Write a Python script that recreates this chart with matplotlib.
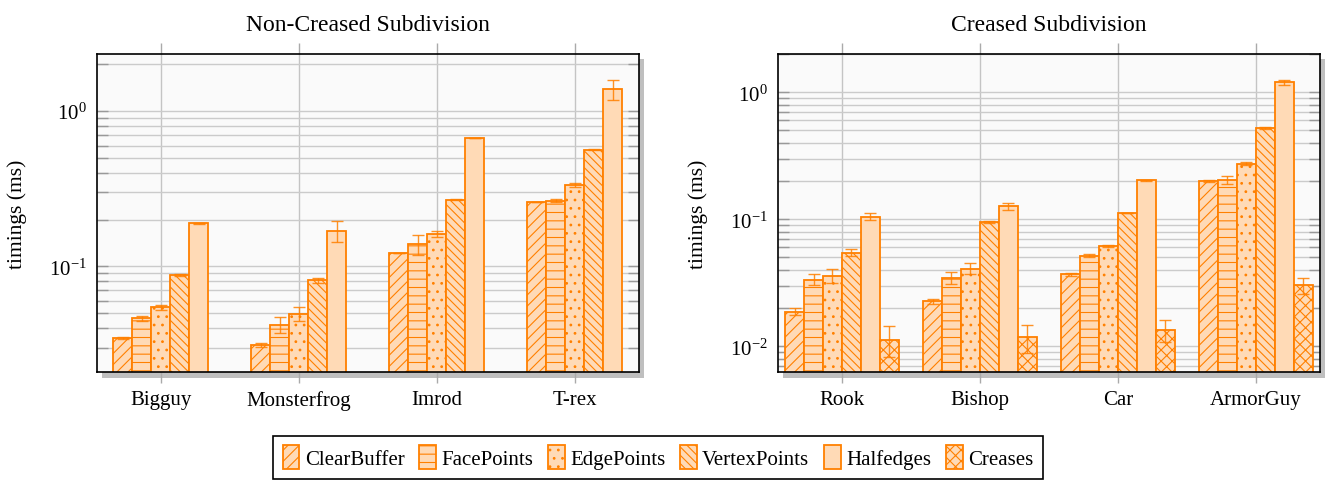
import numpy as np
import matplotlib
matplotlib.use("Agg")
import matplotlib.pyplot as plt
import matplotlib.patheffects as pe
from matplotlib.ticker import LogLocator, NullFormatter

plt.rcParams['font.family'] = ['Liberation Serif', 'DejaVu Serif']
plt.rcParams['mathtext.fontset'] = 'stix'
plt.rcParams['hatch.linewidth'] = 0.8

# ---- data ----
series = ['ClearBuffer', 'FacePoints', 'EdgePoints', 'VertexPoints', 'Halfedges', 'Creases']
hatches = ['///', '--', '..', '\\\\\\\\', '', 'xxx']

nc_models = ['Bigguy', 'Monsterfrog', 'Imrod', 'T-rex']
nc_clearbuffer = [0.0345, 0.0311, 0.122, 0.260]
nc_facepoints = [0.0462, 0.0422, 0.139, 0.265]
nc_edgepoints = [0.0544, 0.0495, 0.162, 0.336]
nc_vertexpoints = [0.0883, 0.0812, 0.269, 0.565]
nc_halfedges = [0.189, 0.170, 0.673, 1.38]
nc_clearbuffer_err = [0.0005, 0.0010, 0.000, 0.000]
nc_facepoints_err = [0.0020, 0.0050, 0.021, 0.007]
nc_edgepoints_err = [0.0021, 0.0049, 0.007, 0.010]
nc_vertexpoints_err = [0.0013, 0.0025, 0.003, 0.005]
nc_halfedges_err = [0.001, 0.027, 0.002, 0.21]

c_models = ['Rook', 'Bishop', 'Car', 'ArmorGuy']
c_clearbuffer = [0.01875, 0.0226, 0.0369, 0.199]
c_facepoints = [0.0335, 0.0347, 0.0518, 0.204]
c_edgepoints = [0.0360, 0.0409, 0.0613, 0.274]
c_vertexpoints = [0.0547, 0.0953, 0.112, 0.521]
c_halfedges = [0.105, 0.126, 0.203, 1.20]
c_creases = [0.01128, 0.01178, 0.01353, 0.0301]
c_clearbuffer_err = [0.0012, 0.0011, 0.0009, 0.003]
c_facepoints_err = [0.0034, 0.0036, 0.0013, 0.015]
c_edgepoints_err = [0.0044, 0.0041, 0.0012, 0.009]
c_vertexpoints_err = [0.0033, 0.0018, 0.001, 0.009]
c_halfedges_err = [0.0064, 0.0077, 0.002, 0.058]
c_creases_err = [0.0031, 0.0029, 0.0027, 0.0042]

EDGE = '#ff8000'
FILL = '#ffdab6'

fig = plt.figure(figsize=(13.27, 4.81), dpi=100)
W, H = 1327, 481
top, bottom = 54.7, 373.3
ax1 = fig.add_axes([96.7 / W, 1 - bottom / H, (639 - 96.7) / W, (bottom - top) / H])
ax2 = fig.add_axes([777.7 / W, 1 - bottom / H, (1320 - 777.7) / W, (bottom - top) / H])


def draw_panel(ax, models, values, errors, names, width, ylim, title):
    n = len(values)
    x = np.arange(len(models))
    for j, (vals, errs, name) in enumerate(zip(values, errors, names)):
        pos = x + (j - (n - 1) / 2) * width
        hatch = hatches[series.index(name)]
        ax.bar(pos, np.array(vals) - 1e-4, width, bottom=1e-4, color=FILL,
               edgecolor=EDGE, linewidth=1.3, hatch=hatch, zorder=3, label=name)
        ax.errorbar(pos, vals, yerr=errs, fmt='none', ecolor=EDGE, elinewidth=1.0,
                    capsize=4, capthick=1.0, zorder=4, alpha=0.85)
    ax.set_yscale('log')
    ax.set_ylim(*ylim)
    ax.set_xlim(-0.465, len(models) - 1 + 0.465)
    ax.set_xticks(x)
    ax.set_xticklabels(models, fontsize=15)
    ax.yaxis.set_major_locator(LogLocator(base=10))
    ax.yaxis.set_minor_locator(LogLocator(base=10, subs=np.arange(2, 10)))
    ax.yaxis.set_minor_formatter(NullFormatter())
    ax.tick_params(axis='y', which='both', labelsize=15, direction='in',
                   right=True, length=8, width=1.0, color='#999999', pad=7)
    ax.tick_params(axis='x', which='major', direction='out', top=True,
                   length=8, width=1.0, color='#aaaaaa', pad=5)
    ax.grid(True, which='major', axis='x', color='#c4c4c4', linewidth=1.0, zorder=0)
    ax.grid(True, which='both', axis='y', color='#cbcbcb', linewidth=1.0, zorder=0)
    ax.set_axisbelow(True)
    ax.set_facecolor('#fafafa')
    ax.patch.set_path_effects([pe.SimplePatchShadow(offset=(3.8, -3.8),
                                                    shadow_rgbFace='#bfbfbf', alpha=1.0),
                               pe.Normal()])
    for sp in ax.spines.values():
        sp.set_linewidth(1.2)
        sp.set_zorder(5)
    ax.set_ylabel('timings (ms)', fontsize=15.5)
    ax.yaxis.set_label_coords(-0.129, 0.5)
    ax.set_title(title, fontsize=17, pad=17)


draw_panel(ax1, nc_models,
           [nc_clearbuffer, nc_facepoints, nc_edgepoints, nc_vertexpoints, nc_halfedges],
           [nc_clearbuffer_err, nc_facepoints_err, nc_edgepoints_err, nc_vertexpoints_err,
            nc_halfedges_err],
           series[:5], 0.138, (0.0208, 2.34), 'Non-Creased Subdivision')
draw_panel(ax2, c_models,
           [c_clearbuffer, c_facepoints, c_edgepoints, c_vertexpoints, c_halfedges, c_creases],
           [c_clearbuffer_err, c_facepoints_err, c_edgepoints_err, c_vertexpoints_err,
            c_halfedges_err, c_creases_err],
           series, 0.137, (0.00624, 2.01), 'Creased Subdivision')

handles, labels = ax2.get_legend_handles_labels()
leg = fig.legend(handles, labels, loc='upper center', bbox_to_anchor=(658 / W, 1 - 437 / H),
                 ncol=6, fontsize=15, frameon=True, fancybox=False, edgecolor='black',
                 framealpha=1, handlelength=0.8, handleheight=1.4, handletextpad=0.25,
                 columnspacing=0.72, borderpad=0.45, borderaxespad=0)
leg.get_frame().set_linewidth(1.2)

fig.savefig('out.png', dpi=100)
